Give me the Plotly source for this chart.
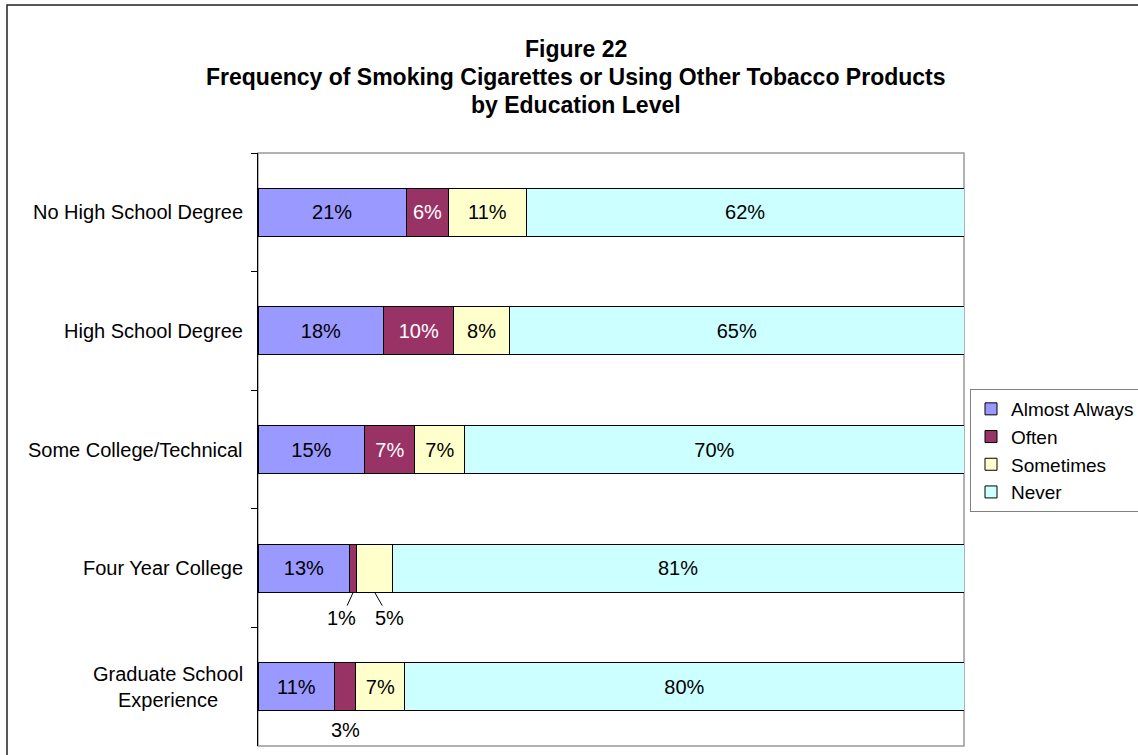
import plotly.graph_objects as go

# ---- data -------------------------------------------------------------
categories = [
    "No High School Degree",
    "High School Degree",
    "Some College/Technical",
    "Four Year College",
    "Graduate School<br>Experience",
]
series_names = ["Almost Always", "Often", "Sometimes", "Never"]
almost_always = [21, 18, 15, 13, 11]
often = [6, 10, 7, 1, 3]
sometimes = [11, 8, 7, 5, 7]
never = [62, 65, 70, 81, 80]
series_values = [almost_always, often, sometimes, never]

title_lines = [
    "Figure 22",
    "Frequency of Smoking Cigarettes or Using Other Tobacco Products",
    "by Education Level",
]

# ---- styling ----------------------------------------------------------
W, H = 1138, 755
M_L, M_R, M_T, M_B = 258, 174, 153, 9
PLOT_W = W - M_L - M_R
PLOT_H = H - M_T - M_B
FONT = "Liberation Sans, Arial, sans-serif"
colors = ["#9999FF", "#993366", "#FFFFCC", "#CCFFFF"]
text_colors = ["black", "white", "black", "black"]
BARGAP = 0.595
TITLE_CENTRE_X = 575.5
TITLE_LINE_Y = [49, 77, 105]

# segments whose value label sits below the bar: (category row, series, dx, dy, leader line)
callouts = [
    (3, 1, -12, 26, True),
    (3, 2, 15, 26, True),
    (4, 1, 0, 19, False),
]
outside = {(r, s) for r, s, *_ in callouts}


def px_to_paper_x(px):
    return (px - M_L) / PLOT_W


def px_to_paper_y(py):
    return (H - M_B - py) / PLOT_H


fig = go.Figure()
for s, (name, vals) in enumerate(zip(series_names, series_values)):
    labels = ["" if (r, s) in outside else f"{v}%" for r, v in enumerate(vals)]
    fig.add_trace(go.Bar(
        name=name,
        y=categories,
        x=vals,
        orientation="h",
        marker=dict(color=colors[s], line=dict(color="black", width=1)),
        text=labels,
        texttemplate="%{text}",
        textposition="inside",
        insidetextanchor="middle",
        textangle=0,
        constraintext="none",
        insidetextfont=dict(family=FONT, size=20, color=text_colors[s]),
        hoverinfo="skip",
    ))

annotations = []

# chart title, one line per annotation
for line, ty in zip(title_lines, TITLE_LINE_Y):
    annotations.append(dict(
        x=px_to_paper_x(TITLE_CENTRE_X), y=px_to_paper_y(ty),
        xref="paper", yref="paper", xanchor="center", yanchor="middle",
        text=f"<b>{line}</b>", showarrow=False,
        font=dict(family=FONT, size=23, color="black"),
    ))

# value labels placed under narrow segments
half_bar = (1 - BARGAP) / 2
for r, s, dx, dy, leader in callouts:
    totals = sum(sv[r] for sv in series_values)
    before = sum(series_values[k][r] for k in range(s))
    centre = (before + series_values[s][r] / 2) / totals * 100
    value = series_values[s][r]
    if leader:
        annotations.append(dict(
            x=centre, y=r + half_bar, xref="x", yref="y",
            text=f"{value}%", showarrow=True, arrowhead=0, arrowwidth=1,
            arrowcolor="black", ax=dx, ay=dy, standoff=0,
            font=dict(family=FONT, size=20, color="black"),
        ))
    else:
        annotations.append(dict(
            x=centre, y=r + half_bar, xref="x", yref="y",
            text=f"{value}%", showarrow=False, yanchor="middle",
            xshift=dx, yshift=-dy,
            font=dict(family=FONT, size=20, color="black"),
        ))

# category labels (centred multi-line text, right-aligned to the axis)
for cat in categories:
    annotations.append(dict(
        x=px_to_paper_x(245), y=cat, xref="paper", yref="y",
        xanchor="right", yanchor="middle", align="center",
        text=cat, showarrow=False,
        font=dict(family=FONT, size=20, color="black"),
    ))

shapes = [
    # plot-area frame
    dict(type="rect", xref="paper", yref="paper", x0=0, x1=1, y0=0, y1=1,
         line=dict(color="#999999", width=1.5), layer="below"),
    # outer chart border
    dict(type="rect", xref="paper", yref="paper",
         x0=px_to_paper_x(7), x1=px_to_paper_x(1145),
         y0=px_to_paper_y(762), y1=px_to_paper_y(5),
         line=dict(color="#222222", width=1.5), layer="below"),
]

fig.update_layout(
    width=W, height=H,
    margin=dict(l=M_L, r=M_R, t=M_T, b=M_B, pad=0, autoexpand=False),
    barmode="stack",
    barnorm="percent",
    bargap=BARGAP,
    paper_bgcolor="white",
    plot_bgcolor="white",
    font=dict(family=FONT, size=20, color="black"),
    xaxis=dict(range=[0, 100], showticklabels=False, showgrid=False,
               zeroline=False, showline=False, ticks=""),
    yaxis=dict(autorange="reversed", showticklabels=False, showgrid=False,
               zeroline=False, showline=True, linecolor="black", linewidth=1,
               ticks="outside", tickson="boundaries", ticklen=6,
               tickcolor="black", tickwidth=1),
    legend=dict(
        x=px_to_paper_x(970), xanchor="left",
        y=px_to_paper_y(389), yanchor="top",
        bgcolor="white", bordercolor="#808080", borderwidth=1,
        font=dict(family=FONT, size=19, color="black"),
        traceorder="normal", tracegroupgap=0,
    ),
    annotations=annotations,
    shapes=shapes,
    showlegend=True,
)

fig.write_html("out.html")
